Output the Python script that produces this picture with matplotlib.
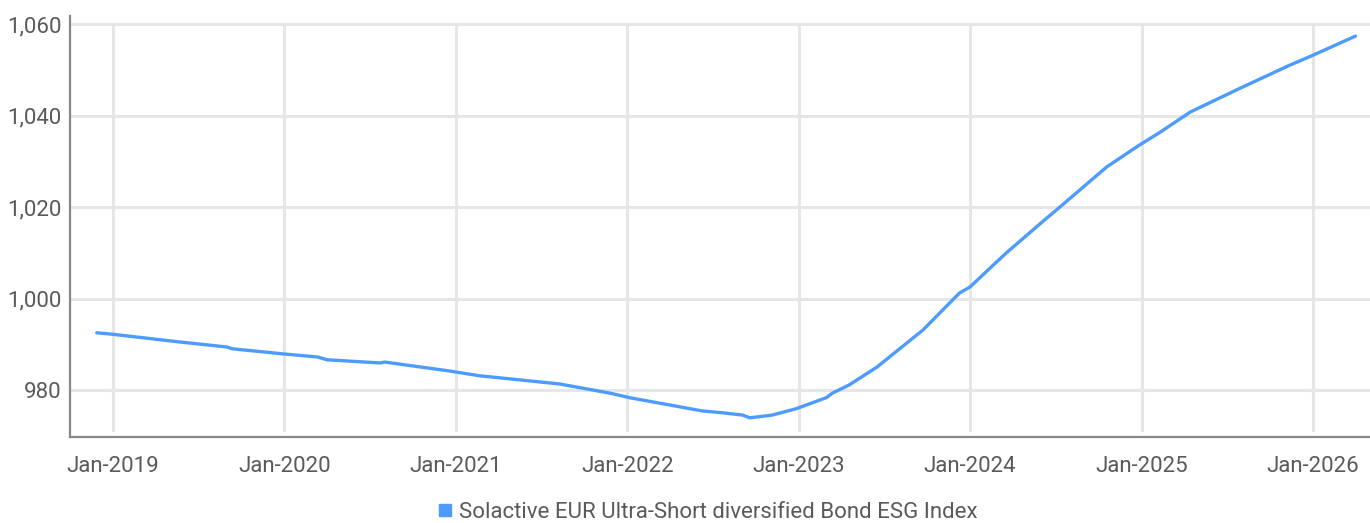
import matplotlib
matplotlib.use("Agg")
import matplotlib.pyplot as plt
import matplotlib.dates as mdates
from matplotlib.lines import Line2D
import pandas as pd

plt.rcParams['font.family'] = ['DejaVu Sans Condensed', 'Roboto', 'DejaVu Sans']

# index level
dates = ["2018-11-27", "2018-12-29", "2019-05-22", "2019-08-31", "2019-09-12",
         "2019-12-28", "2020-03-12", "2020-04-01", "2020-07-23", "2020-08-02",
         "2020-12-14", "2021-02-20", "2021-08-10", "2021-11-25", "2022-01-06",
         "2022-06-10", "2022-07-23", "2022-09-04", "2022-09-19", "2022-11-06",
         "2022-12-27", "2023-03-01", "2023-03-14", "2023-04-19", "2023-06-17",
         "2023-09-23", "2023-12-10", "2024-01-01", "2024-03-19", "2024-06-13",
         "2024-06-26", "2024-10-19", "2024-12-28", "2025-02-10", "2025-04-15",
         "2025-07-30", "2025-11-12", "2026-01-01", "2026-04-02"]
values = [992.5, 992.2, 990.5, 989.4, 989.0,
          987.9, 987.2, 986.6, 985.9, 986.1,
          984.2, 983.1, 981.3, 979.3, 978.3,
          975.4, 975.0, 974.5, 973.9, 974.5,
          975.9, 978.3, 979.3, 981.1, 985.0,
          993.1, 1001.2, 1002.5, 1010.0, 1017.6,
          1018.7, 1028.8, 1033.6, 1036.4, 1040.8,
          1046.0, 1051.0, 1053.2, 1057.4]
series_name = "Solactive EUR Ultra-Short diversified Bond ESG Index"
yticks = [980, 1000, 1020, 1040, 1060]

x = pd.to_datetime(dates)
line_color = "#4d9bff"
text_color = "#5a5a5a"

fig = plt.figure(figsize=(13.7, 5.23), dpi=100)
ax = fig.add_axes([0.0511, 0.1644, 0.9489, 0.805])

ax.plot(x, values, color=line_color, lw=2.4, solid_capstyle='round')

ax.set_xlim(pd.Timestamp("2018-10-01"), pd.Timestamp("2026-05-03"))
ax.set_ylim(969.7, 1061.8)
ax.set_yticks(yticks)
ax.yaxis.set_major_formatter(matplotlib.ticker.FuncFormatter(lambda v, p: f"{v:,.0f}"))
ax.xaxis.set_major_locator(mdates.YearLocator(1, month=1, day=1))
ax.xaxis.set_major_formatter(mdates.DateFormatter("%b-%Y"))

ax.grid(True, axis='y', color="#e6e6e6", lw=2.2)
for t in ax.get_xticks():
    ax.axvline(t, ymin=0.016, ymax=0.98, color="#e6e6e6", lw=2.2, zorder=0)
ax.set_axisbelow(True)
for s in ["top", "right"]:
    ax.spines[s].set_visible(False)
for s in ["left", "bottom"]:
    ax.spines[s].set_color("#888888")
    ax.spines[s].set_linewidth(1.6)
ax.tick_params(length=0, labelsize=16, labelcolor=text_color)
ax.tick_params(axis='x', pad=14)
ax.tick_params(axis='y', pad=6)

handle = Line2D([], [], marker='s', ls='none', color=line_color, markersize=9)
fig.legend([handle], [series_name], loc='center', bbox_to_anchor=(0.515, 0.021),
           frameon=False, fontsize=16, labelcolor=text_color,
           handletextpad=0.1, handlelength=1.0)

fig.savefig("out.png", dpi=100)
